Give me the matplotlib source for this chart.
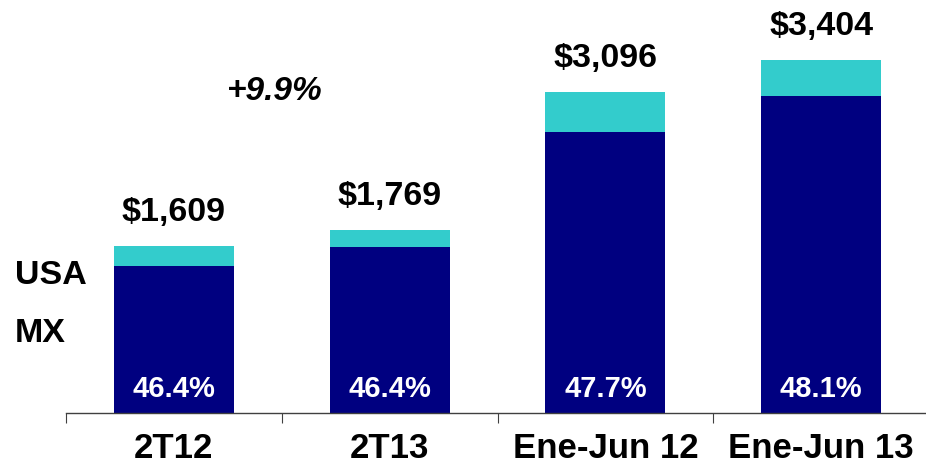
import matplotlib
matplotlib.use("Agg")
import matplotlib.pyplot as plt
from matplotlib.transforms import blended_transform_factory

periods = ["2T12", "2T13", "Ene-Jun 12", "Ene-Jun 13"]
totals = [1609, 1769, 3096, 3404]
mx = [1416, 1602, 2714, 3054]
usa = [t - m for t, m in zip(totals, mx)]
total_labels = ["$1,609", "$1,769", "$3,096", "$3,404"]
share_labels = ["46.4%", "46.4%", "47.7%", "48.1%"]
growth_label = "+9.9%"

NAVY = "#000080"
CYAN = "#33CCCC"
plt.rcParams["font.family"] = ["Liberation Sans", "DejaVu Sans"]

W, H = 926, 468
fig = plt.figure(figsize=(W / 100, H / 100), dpi=100)
# axes: left at x=66px, baseline at y=413px
ax = fig.add_axes([66 / W, (H - 413) / H, (W - 66) / W, 413 / H])

x = range(len(periods))
ax.bar(x, mx, width=0.556, color=NAVY)
ax.bar(x, usa, bottom=mx, width=0.556, color=CYAN)

ax.set_xlim(-0.5, 3.486)
ax.set_ylim(0, 3983)

for i in x:
    ax.annotate(total_labels[i], (i, totals[i]), xytext=(0, 13), textcoords="offset points",
                ha="center", va="bottom", fontsize=24.5, fontweight="bold")
    ax.text(i, 0, share_labels[i], ha="center", va="center", color="white",
            fontsize=21, fontweight="bold",
            transform=blended_transform_factory(ax.transData, ax.transAxes),
            position=(i, (413 - 389) / 413))

fig.text(275 / W, 1 - 91 / H, growth_label, ha="center", va="center",
         fontsize=24, fontweight="bold", style="italic")
fig.text(15 / W, 1 - 275 / H, "USA", ha="left", va="center", fontsize=24.5, fontweight="bold")
fig.text(15 / W, 1 - 334 / H, "MX", ha="left", va="center", fontsize=24.5, fontweight="bold")

for s in ["top", "right", "left"]:
    ax.spines[s].set_visible(False)
ax.spines["bottom"].set_color("#404040")
ax.spines["bottom"].set_linewidth(1)
ax.set_yticks([])
ax.set_xticks([-0.5, 0.5, 1.5, 2.5])
ax.set_xticklabels([])
ax.tick_params(axis="x", which="major", length=7.2, width=0.8, color="#404040", direction="out")
ax.set_xticks(list(x), minor=True)
ax.set_xticklabels(periods, minor=True, fontsize=25, fontweight="bold")
ax.tick_params(axis="x", which="minor", length=0, pad=14)

fig.savefig("out.png", dpi=100)
